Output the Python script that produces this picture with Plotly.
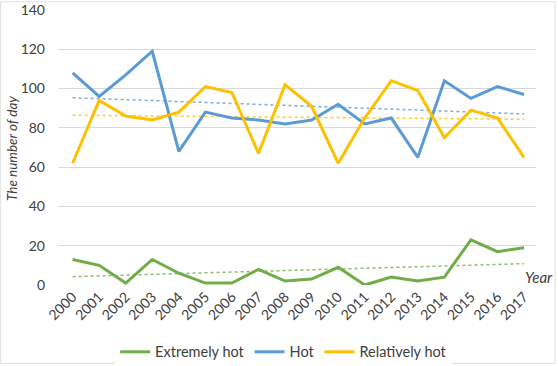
import numpy as np
import plotly.graph_objects as go

years = [str(y) for y in range(2000, 2018)]
extremely_hot = [13, 10, 1, 13, 6, 1, 1, 8, 2, 3, 9, 0, 4, 2, 4, 23, 17, 19]
hot = [108, 96, 107, 119, 68, 88, 85, 84, 82, 84, 92, 82, 85, 65, 104, 95, 101, 97]
relatively_hot = [62, 94, 86, 84, 88, 101, 98, 67, 102, 91, 62, 85, 104, 99, 75, 89, 85, 65]
y_ticks = [0, 20, 40, 60, 80, 100, 120, 140]

series = [
    ("Extremely hot", extremely_hot, "#70AD47"),
    ("Hot", hot, "#5B9BD5"),
    ("Relatively hot", relatively_hot, "#FFC000"),
]

FONT = "Lato, 'Open Sans', sans-serif"
fig = go.Figure()
idx = np.arange(len(years))
# trend lines (linear fit, as in the spreadsheet trendline)
for name, vals, col in series:
    k, b = np.polyfit(idx, np.array(vals, dtype=float), 1)
    fig.add_trace(go.Scatter(x=years, y=k * idx + b, mode="lines",
                             line=dict(color=col, width=1.5, dash="dot"),
                             showlegend=False, hoverinfo="skip", opacity=0.8))
for name, vals, col in series:
    fig.add_trace(go.Scatter(x=years, y=vals, mode="lines", name=name,
                             line=dict(color=col, width=3)))

fig.update_layout(
    width=558, height=366,
    margin=dict(l=58, r=22, t=10, b=81, autoexpand=False),
    plot_bgcolor="white", paper_bgcolor="white",
    font=dict(family=FONT, size=13, color="#404040"),
    legend=dict(orientation="h", x=0.472, xanchor="center", y=-0.185, yanchor="top",
                font=dict(size=14.5, color="#404040"), itemwidth=30, tracegroupgap=0),
    xaxis=dict(type="category", range=[-0.55, 17.45], tickangle=-45, automargin=False,
               showgrid=False, showline=False, ticks="", tickfont=dict(size=14)),
    yaxis=dict(range=[0, 140], tickvals=y_ticks, showgrid=True, gridcolor="#D9D9D9",
               gridwidth=1, zeroline=False, showline=False, ticks="", automargin=False,
               tickfont=dict(size=14), ticklabelstandoff=12),
    annotations=[
        dict(text="<i>Year</i>", xref="paper", yref="paper", x=1.04, y=0.03,
             xanchor="right", yanchor="middle", showarrow=False,
             font=dict(size=15, color="#404040")),
        dict(text="<i>The number of day</i>", xref="paper", yref="paper", x=-0.096, y=0.495,
             xanchor="center", yanchor="middle", textangle=-90, showarrow=False,
             font=dict(size=13.5, color="#404040")),
    ],
    shapes=[dict(type="rect", xref="paper", yref="paper", x0=-0.12, x1=1.04, y0=-0.285, y1=1.03,
                 line=dict(color="#E0E0E0", width=1))],
)
fig.write_html("out.html", config={"displayModeBar": False},
               post_script="document.body.style.margin='0';")
